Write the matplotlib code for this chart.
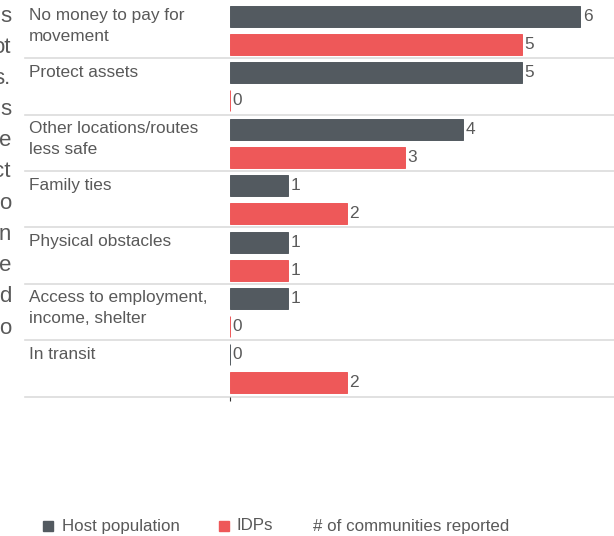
import matplotlib
matplotlib.use("Agg")
import matplotlib.pyplot as plt
from matplotlib.patches import Rectangle
from matplotlib.transforms import blended_transform_factory
import numpy as np

plt.rcParams['font.family'] = ['Liberation Sans', 'DejaVu Sans']

categories = ["No money to pay for\nmovement", "Protect assets",
              "Other locations/routes\nless safe", "Family ties",
              "Physical obstacles", "Access to employment,\nincome, shelter",
              "In transit"]
host_values = [6, 5, 4, 1, 1, 1, 0]
idp_values = [5, 0, 3, 2, 1, 0, 2]
series_names = ["Host population", "IDPs"]
axis_title = "# of communities reported"
side_fragments = ["s", "ot", "s.", "s", "e", "ct", "o", "n", "e", "d", "o"]

HOST_C = "#535a60"
IDP_C = "#ee5859"
TXT_C = "#595959"
SEP_C = "#dcdcdc"

W, H = 614, 536
fig = plt.figure(figsize=(W / 100, H / 100), dpi=100)

ax_left, ax_right = 230, 614
ax_top, ax_bot = 1.9, 396.7
ax = fig.add_axes([ax_left / W, 1 - ax_bot / H, (ax_right - ax_left) / W,
                   (ax_bot - ax_top) / H])
unit_px = 58.33
ax.set_xlim(0, (ax_right - ax_left) / unit_px)
n = len(categories)
ax.set_ylim(n, 0)

idx = np.arange(n)
bh = 0.372
y_host = idx + 0.259
y_idp = idx + 0.755
ax.barh(y_host, host_values, height=bh, color=HOST_C, edgecolor=HOST_C,
        linewidth=0.7)
ax.barh(y_idp, idp_values, height=bh, color=IDP_C, edgecolor=IDP_C,
        linewidth=0.7)

FS = 12.4
for yv, v in zip(y_host, host_values):
    ax.annotate(str(v), (v, yv), xytext=(2, 0), textcoords="offset points",
                va="center", ha="left", fontsize=FS, color=TXT_C)
for yv, v in zip(y_idp, idp_values):
    ax.annotate(str(v), (v, yv), xytext=(2, 0), textcoords="offset points",
                va="center", ha="left", fontsize=FS, color=TXT_C)

sep_x0 = (25 - ax_left) / (ax_right - ax_left)
for i in range(n):
    ax.axhline(i + 1, xmin=sep_x0, xmax=1, color=SEP_C, linewidth=1.2,
               clip_on=False, zorder=0)

tr = blended_transform_factory(fig.transFigure, ax.transData)
for i, lab in enumerate(categories):
    ax.text(29 / W, i + 0.115, lab, transform=tr, ha="left", va="top",
            fontsize=FS, color=TXT_C, linespacing=1.45)

for s in ax.spines.values():
    s.set_visible(False)
ax.set_yticks([])
ax.set_xticks([0])
ax.set_xticklabels([])
ax.tick_params(axis="x", length=3, width=0.8, color="#333333")

# cut-off side paragraph text on the left edge
for k, w in enumerate(side_fragments):
    fig.text(11 / W, 1 - (16 + 31.2 * k) / H, w, ha="right", va="center",
             fontsize=16, color=TXT_C)

# legend
ly = 1 - 526 / H
sq = 10
fig.patches.append(Rectangle((43 / W, ly - sq / 2 / H), sq / W, sq / H,
                             transform=fig.transFigure, color=HOST_C))
fig.text(62 / W, ly, series_names[0], ha="left", va="center", fontsize=12.2,
         color=TXT_C)
fig.patches.append(Rectangle((219 / W, ly - sq / 2 / H), sq / W, sq / H,
                             transform=fig.transFigure, color=IDP_C))
fig.text(237 / W, ly, series_names[1], ha="left", va="center", fontsize=12.2,
         color=TXT_C)
fig.text(313 / W, ly, axis_title, ha="left", va="center", fontsize=12.2,
         color=TXT_C)

fig.savefig("out.png", dpi=100)
